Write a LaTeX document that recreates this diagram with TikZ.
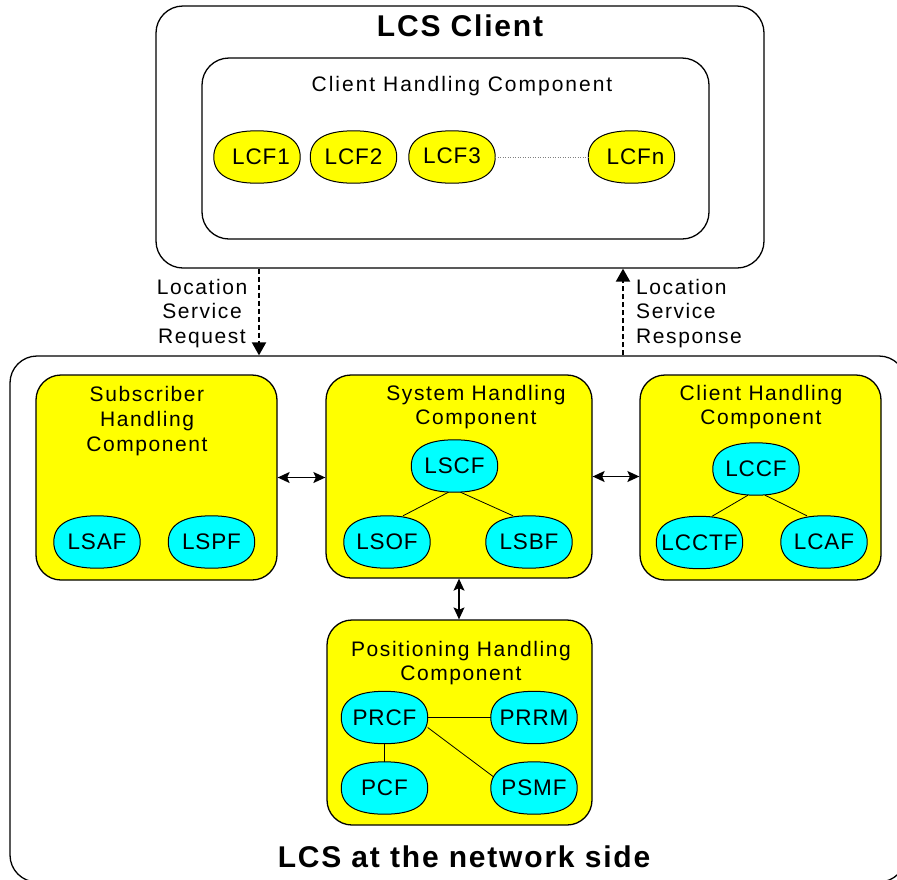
\documentclass[tikz,border=0pt]{standalone}
\usepackage{fontspec}
\setmainfont{Liberation Sans}
\newfontfamily\boxfont[LetterSpace=7.5]{Liberation Sans}
\newfontfamily\topfont[LetterSpace=9.5]{Liberation Sans}
\newfontfamily\ellfont[LetterSpace=4]{Liberation Sans}
\newfontfamily\ttlfont[LetterSpace=6]{Liberation Sans}
\usetikzlibrary{arrows.meta,calc}
\definecolor{ylw}{RGB}{255,255,0}
\definecolor{cyn}{RGB}{0,255,255}
\pgfdeclarelayer{boxes}
\pgfdeclarelayer{ovals}
\pgfsetlayers{boxes,ovals,main}
\tikzset{
  outerbox/.style={draw, line width=1.3pt, rounded corners=27pt, fill=white, inner sep=0pt},
  ybox/.style={draw, line width=1.3pt, rounded corners=25pt, fill=ylw, inner sep=0pt},
  fn/.style={minimum width=86pt, minimum height=52pt,
    font=\ellfont\fontsize{22.5}{24}\selectfont, inner sep=0pt},
  ovl/.style={line width=1pt, draw=black},
  lbl/.style={font=\boxfont\fontsize{21}{24.6}\selectfont, align=center, inner sep=0pt},
  toplbl/.style={font=\topfont\fontsize{21}{24.6}\selectfont, align=center, inner sep=0pt},
  ttl/.style={font=\ttlfont\bfseries\fontsize{30}{32}\selectfont, inner sep=0pt},
  link/.style={line width=0.8pt},
  dbl/.style={line width=1.3pt, {Stealth[length=12pt,width=11pt,inset=2.5pt]}-{Stealth[length=12pt,width=11pt,inset=2.5pt]}},
  msg/.style={line width=2pt, dash pattern=on 5pt off 3pt, -{Triangle[length=13pt,width=14pt]}},
}
\newcommand\drawoval[2]{%
  \filldraw[ovl, fill=#2]
    (#1.west) .. controls ($(#1.west)!0.66!(#1.north west)$) and ($(#1.north)!0.66!(#1.north west)$) .. (#1.north)
    .. controls ($(#1.north)!0.66!(#1.north east)$) and ($(#1.east)!0.66!(#1.north east)$) .. (#1.east)
    .. controls ($(#1.east)!0.66!(#1.south east)$) and ($(#1.south)!0.66!(#1.south east)$) .. (#1.south)
    .. controls ($(#1.south)!0.66!(#1.south west)$) and ($(#1.west)!0.66!(#1.south west)$) .. (#1.west) -- cycle;}
\begin{document}
\begin{tikzpicture}[x=1pt,y=-1pt]
\useasboundingbox (0,0) rectangle (897,879);
\clip (0,0) rectangle (897,879);

\begin{pgfonlayer}{boxes}
\fill[white] (0,0) rectangle (897,879);
\node[outerbox, minimum width=896pt, minimum height=526pt] (net) at (458,619) {};
\node[outerbox, minimum width=608pt, minimum height=262pt] (client) at (460,137) {};
\node[outerbox, minimum width=507pt, minimum height=181pt] (chc) at (455.5,148.5) {};
\node[ybox, minimum width=241pt, minimum height=205pt] (sub) at (156.5,477.5) {};
\node[ybox, minimum width=266pt, minimum height=203pt] (sys) at (459,476.5) {};
\node[ybox, minimum width=241pt, minimum height=205pt] (cli) at (760.5,477.5) {};
\node[ybox, minimum width=265pt, minimum height=205pt] (pos) at (459.5,722.5) {};
\end{pgfonlayer}

% titles
\node[ttl] (netttl) at (464,857) {LCS at the network side};
\node[ttl] (clientttl) at (460,26) {LCS Client};
\node[toplbl] (chcttl) at (462,86) {Client Handling Component};

% LCS client functions
\node[fn] (lcf1) at (257,157) {\hspace*{8pt}LCF1};
\node[fn] (lcf2) at (353.5,157) {LCF2};
\node[fn, text depth=3pt] (lcf3) at (452,157) {LCF3};
\node[fn] (lcfn) at (631.5,157) {\hspace*{8pt}LCFn};
\draw[gray, line width=0.7pt, dash pattern=on 1pt off 1.5pt] (lcf3) -- (lcfn);

% messages
\coordinate (rqx) at (259,300);
\coordinate (rsx) at (623,300);
\draw[msg] (client.south -| rqx) -- (net.north -| rqx);
\draw[msg] (net.north -| rsx) -- (client.south -| rsx);
\node[lbl] (reqlbl) at (202,313.5) {Location\\Service\\Request};
\node[lbl, align=left, anchor=west] (reslbl) at (636,313.5) {Location\\Service\\Response};

% subscriber handling
\node[lbl] (subttl) at (147,421) {Subscriber\\Handling\\Component};
\node[fn] (lsaf) at (97,542) {LSAF};
\node[fn] (lspf) at (211.5,542) {LSPF};

% system handling
\node[lbl] (systtl) at (476,407) {System Handling\\Component};
\node[fn] (lscf) at (454.5,466) {LSCF};
\node[fn] (lsof) at (387,542) {LSOF};
\node[fn] (lsbf) at (529,542) {LSBF};
\draw[link] ([xshift=-6pt]lscf.south) -- ([xshift=16pt]lsof.north);
\draw[link] ([xshift=6pt]lscf.south) -- ([xshift=-16pt]lsbf.north);

% client handling (network)
\node[lbl] (clittl) at (761,407) {Client Handling\\Component};
\node[fn] (lccf) at (756,469) {LCCF};
\node[fn] (lcctf) at (699.5,542.5) {LCCTF};
\node[fn] (lcaf) at (824,542) {LCAF};
\draw[link] ([xshift=-8pt]lccf.south) -- ([xshift=12.5pt]lcctf.north);
\draw[link] ([xshift=9pt]lccf.south) -- ([xshift=-17pt]lcaf.north);

% positioning handling
\node[lbl] (posttl) at (461,663) {Positioning Handling\\Component};
\node[fn] (prcf) at (384.5,717.5) {PRCF};
\node[fn] (prrm) at (534,717.5) {PRRM};
\node[fn] (pcf) at (384.5,788) {PCF};
\node[fn] (psmf) at (534,788) {PSMF};
\draw[link] (prcf.east) -- (prrm.west);
\draw[link] (prcf.south) -- (pcf.north);
\draw[link] ([yshift=-10pt]prcf.east) -- ([xshift=3pt,yshift=11pt]psmf.west);

% oval outlines of the function nodes
\begin{pgfonlayer}{ovals}
\drawoval{lcf1}{ylw}\drawoval{lcf2}{ylw}\drawoval{lcf3}{ylw}\drawoval{lcfn}{ylw}
\drawoval{lsaf}{cyn}\drawoval{lspf}{cyn}
\drawoval{lscf}{cyn}\drawoval{lsof}{cyn}\drawoval{lsbf}{cyn}
\drawoval{lccf}{cyn}\drawoval{lcctf}{cyn}\drawoval{lcaf}{cyn}
\drawoval{prcf}{cyn}\drawoval{prrm}{cyn}\drawoval{pcf}{cyn}\drawoval{psmf}{cyn}
\end{pgfonlayer}

% interfaces
\draw[dbl] (sub.east) -- (sub.east -| sys.west);
\draw[dbl] (sys.east) -- (sys.east -| cli.west);
\draw[dbl] (sys.south) -- (sys.south |- pos.north);
\end{tikzpicture}
\end{document}
